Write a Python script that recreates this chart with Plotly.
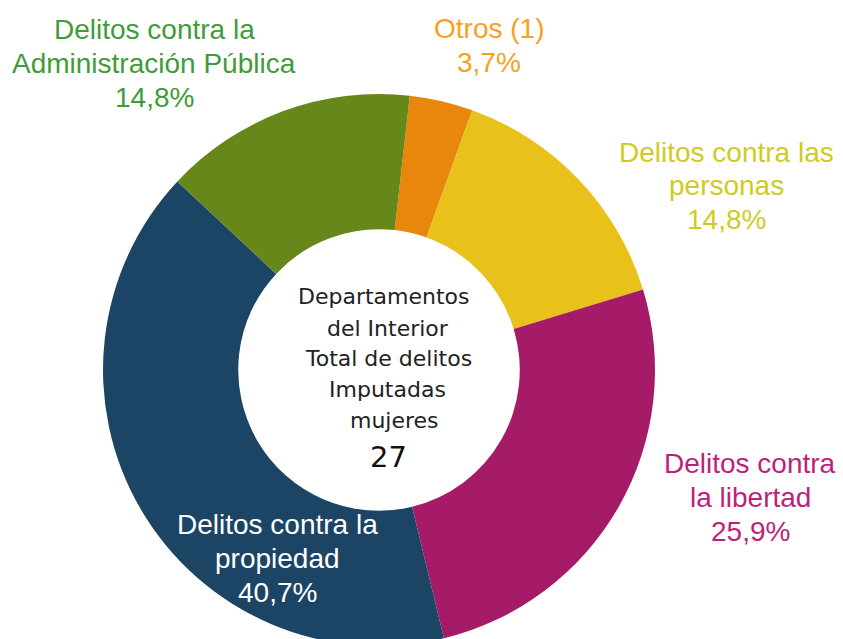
import plotly.graph_objects as go

# ---- data ----
categories = ["Otros (1)", "Delitos contra las personas", "Delitos contra la libertad",
              "Delitos contra la propiedad", "Delitos contra la Administración Pública"]
values = [1, 4, 7, 11, 4]
label_lines = [["Otros (1)"], ["Delitos contra las", "personas"], ["Delitos contra", "la libertad"],
               ["Delitos contra la", "propiedad"], ["Delitos contra la", "Administración Pública"]]
center_lines = ["Departamentos", "del Interior", "Total de delitos", "Imputadas", "mujeres"]
total = sum(values)

# ---- styles ----
slice_colors = ["#E8870C", "#E8C11B", "#A51B67", "#1C4565", "#66871A"]
label_colors = ["#F7A11C", "#CFCB1F", "#BF1F7B", "#FFFFFF", "#3F9C38"]
label_pos = [(489, 28), (726, 152), (750, 463), (277, 524), (154, 30)]  # px centre of first line
line_gap = 34

W, H = 843, 660


def px(x, y):
    return x / W, 1 - y / H


fig = go.Figure(go.Pie(
    labels=categories, values=values, sort=False, direction="clockwise", rotation=6.4,
    hole=0.51, marker=dict(colors=slice_colors, line=dict(width=0)),
    textinfo="none", hoverinfo="label+value+percent", showlegend=False,
    domain=dict(x=[103 / W, 655 / W], y=[1 - 646 / H, 1 - 94 / H]),
))

ann = []
for i, lines in enumerate(label_lines):
    pct = f"{values[i] / total * 100:.1f}".replace(".", ",") + "%"
    cx, cy = label_pos[i]
    for j, t in enumerate(lines + [pct]):
        x, y = px(cx, cy + j * line_gap)
        ann.append(dict(x=x, y=y, xref="paper", yref="paper", text=t, showarrow=False,
                        xanchor="center", yanchor="middle",
                        font=dict(family="Liberation Sans", size=28, color=label_colors[i])))

center_x = [384, 388, 388, 387, 394]
center_y = [297, 328, 358, 389, 420]
for t, x0, y0 in zip(center_lines, center_x, center_y):
    x, y = px(x0, y0)
    ann.append(dict(x=x, y=y, xref="paper", yref="paper", text=t, showarrow=False,
                    xanchor="center", yanchor="middle",
                    font=dict(family="DejaVu Sans", size=22, color="#222222")))
x, y = px(388, 457)
ann.append(dict(x=x, y=y, xref="paper", yref="paper", text=str(total), showarrow=False,
                xanchor="center", yanchor="middle",
                font=dict(family="DejaVu Sans", size=29, color="#111111")))

fig.update_layout(width=W, height=H, autosize=False, margin=dict(l=0, r=0, t=0, b=0),
                  paper_bgcolor="white", plot_bgcolor="white", annotations=ann)

fig.write_html("out.html", config={"displayModeBar": False},
               post_script="document.body.style.margin='0';document.body.style.overflow='hidden';")
